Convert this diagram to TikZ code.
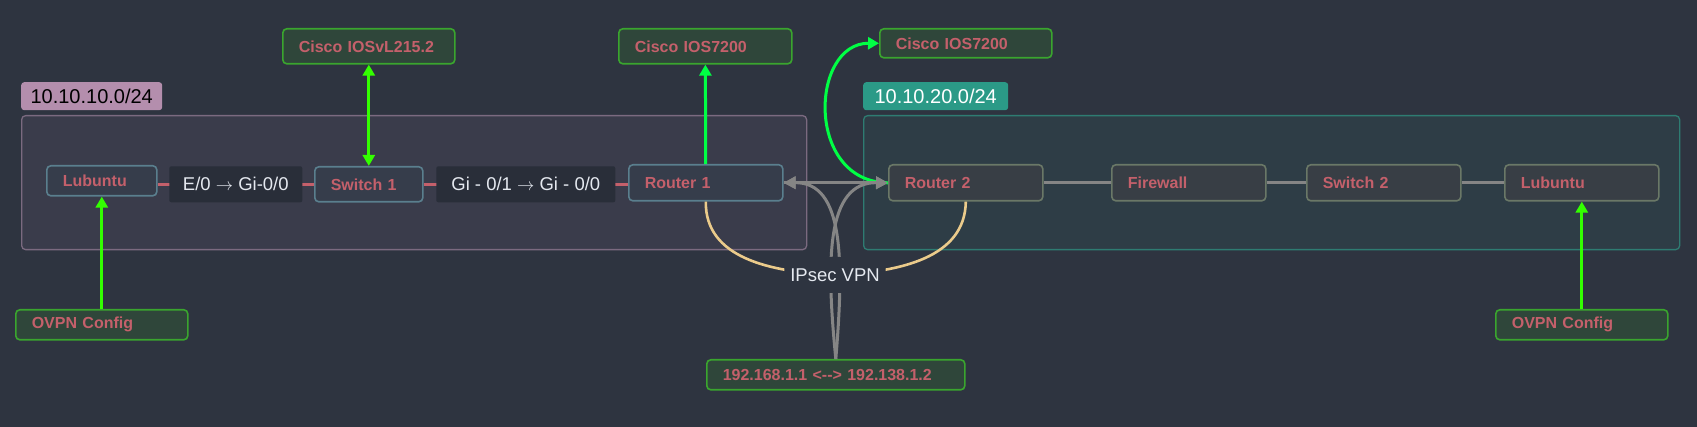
\documentclass[tikz,border=0pt]{standalone}
\usepackage{fontspec}
\setmainfont{Liberation Sans}
\usetikzlibrary{arrows.meta}
\definecolor{bgc}{HTML}{2E3440}
\definecolor{ntext}{HTML}{C4606B}
\definecolor{lpink}{HTML}{B48EAD}
\definecolor{lteal}{HTML}{2B9A87}
\definecolor{vpnyel}{HTML}{EBCB8B}
\definecolor{gline}{HTML}{858585}
\definecolor{lime}{HTML}{33FF00}
\definecolor{mint}{HTML}{00FF44}
\definecolor{gfill}{HTML}{2F463A}
\definecolor{gdraw}{HTML}{3AA52E}
\definecolor{g1fill}{HTML}{3A3C4B}
\definecolor{g1draw}{HTML}{7B6A80}
\definecolor{g2fill}{HTML}{2E3D46}
\definecolor{g2draw}{HTML}{2E7C72}
\definecolor{n1fill}{HTML}{363D4B}
\definecolor{n1draw}{HTML}{5A7F8E}
\definecolor{n2fill}{HTML}{383E45}
\definecolor{n2draw}{HTML}{6A7867}
\definecolor{elfill}{HTML}{292E39}
\definecolor{eltext}{HTML}{E5E9F0}
\begin{document}
\begin{tikzpicture}[x=1pt,y=-1pt,
  box/.style={draw, line width=1.6pt, rounded corners=4pt, anchor=north west,
    inner xsep=16pt, inner ysep=0pt, align=left, text=ntext,
    font=\bfseries\fontsize{16}{19}\selectfont},
  lbox/.style={box, fill=n1fill, draw=n1draw},
  rbox/.style={box, fill=n2fill, draw=n2draw},
  gbox/.style={box, fill=gfill, draw=gdraw},
  grp/.style={line width=1.3pt, rounded corners=4pt, anchor=north west, inner sep=0pt},
  netlabel/.style={rounded corners=3pt, anchor=north west, inner sep=0pt,
    font=\fontsize{20}{24}\selectfont},
  elabel/.style={fill=elfill, rounded corners=2pt, inner xsep=6pt, inner ysep=0pt,
    minimum height=36pt, text=eltext, font=\fontsize{18.5}{22}\selectfont},
  redline/.style={draw=ntext, line width=3pt},
  grayline/.style={draw=gline, line width=3pt},
  gtip/.style={-{Triangle[length=12pt,width=12pt]}},
  greenarrow/.style={line width=3pt, -{Triangle[length=11pt,width=12pt]}},
  greenboth/.style={line width=3pt, {Triangle[length=11pt,width=12pt]}-{Triangle[length=11pt,width=12pt]}}
]
\fill[bgc] (0,0) rectangle (1697,427);
\useasboundingbox (0,0) rectangle (1697,427);

% groups
\node[grp, fill=g1fill, draw=g1draw, minimum width=785pt, minimum height=134pt] (grpA) at (21,115) {};
\node[grp, fill=g2fill, draw=g2draw, minimum width=816pt, minimum height=134pt] (grpB) at (863,115) {};
\node[netlabel, fill=lpink, text=black, minimum width=141pt, minimum height=28pt] (netA) at (21,82) {10.10.10.0/24};
\node[netlabel, fill=lteal, text=white, minimum width=145pt, minimum height=28pt] (netB) at (863,82) {10.10.20.0/24};

% top boxes
\node[gbox, minimum width=172pt, minimum height=35pt, text width=140pt] (ciscoA) at (282,28) {Cisco IOSvL215.2};
\node[gbox, minimum width=173pt, minimum height=35pt, text width=141pt] (ciscoB) at (618,28) {Cisco IOS7200};
\node[gbox, minimum width=172pt, minimum height=29pt, text width=140pt] (ciscoC) at (879,28) {Cisco IOS7200};

% left network nodes
\node[lbox, minimum width=110pt, minimum height=30pt, text width=78pt] (lubA) at (46,165) {Lubuntu};
\node[lbox, minimum width=108pt, minimum height=35pt, text width=76pt] (swA) at (314,166) {Switch 1};
\node[lbox, minimum width=154pt, minimum height=36pt, text width=122pt] (rA) at (628,164) {Router 1};

% right network nodes
\node[rbox, minimum width=154pt, minimum height=36pt, text width=122pt] (rB) at (888,164) {Router 2};
\node[rbox, minimum width=154pt, minimum height=36pt, text width=122pt] (fwB) at (1111,164) {Firewall};
\node[rbox, minimum width=154pt, minimum height=36pt, text width=122pt] (swB) at (1306,164) {Switch 2};
\node[rbox, minimum width=154pt, minimum height=36pt, text width=122pt] (lubB) at (1504,164) {Lubuntu};

% bottom boxes
\node[gbox, minimum width=172pt, minimum height=30pt, text width=140pt] (ovpnA) at (15,309) {OVPN Config};
\node[gbox, minimum width=172pt, minimum height=30pt, text width=140pt] (ovpnB) at (1495,309) {OVPN Config};
\node[gbox, minimum width=258pt, minimum height=30pt, text width=226pt] (ipbox) at (706,359) {192.168.1.1 <{-}{-}> 192.138.1.2};

% left links
\draw[redline] (lubA.east |- swA.west) -- node[elabel, minimum width=133pt] (lblA) {E/0 $\rightarrow$ Gi-0/0} (swA.west);
\draw[redline] (swA.east) -- node[elabel, minimum width=179pt] (lblB) {Gi - 0/1 $\rightarrow$ Gi - 0/0} (swA.east -| rA.west);

% right links
\draw[grayline] (rB) -- (fwB);
\draw[grayline] (fwB) -- (swB);
\draw[grayline] (swB) -- (lubB);

% VPN tunnel
\coordinate (vpnc) at (835,275);
\draw[draw=vpnyel, line width=2.6pt] (rA.south) .. controls (705,258) and (770,272) .. (vpnc)
  .. controls (900,272) and (965,258) .. (rB.south);

% gray links
\draw[grayline, {Triangle[length=12pt,width=12pt]}-{Triangle[length=12pt,width=12pt]}] (rA) -- (rB);
\draw[grayline, gtip] (ipbox.north) .. controls (826,260) and (826,182) .. (rB.west);
\draw[grayline, gtip] (ipbox.north) .. controls (844,260) and (844,182) .. (rA.east);

% green links
\draw[greenboth, draw=lime] (swA) -- (ciscoA);
\draw[greenarrow, draw=mint] (rA) -- (ciscoB);
\draw[greenarrow, draw=mint] (rB.west) .. controls (805,182) and (810,43) .. (ciscoC.west);
\draw[greenarrow, draw=lime] (ovpnA) -- (lubA);
\draw[greenarrow, draw=lime] (ovpnB) -- (lubB);

% gray heads on top of the green curve end
\draw[grayline, gtip] (rA) -- (rB);

\node[elabel, fill=bgc, minimum height=36pt] (vpn) at (vpnc) {IPsec VPN};
\end{tikzpicture}
\end{document}
